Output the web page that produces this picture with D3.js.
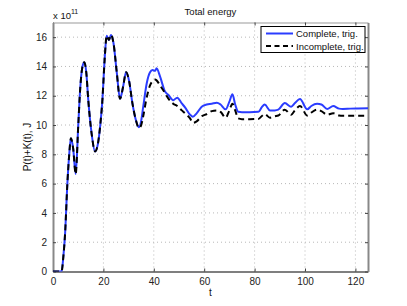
<!DOCTYPE html>
<html><head><meta charset="utf-8">
<script src="https://cdn.jsdelivr.net/npm/d3@7"></script>
<style>body{margin:0;background:#fff}svg{display:block}text{font-family:"Liberation Sans",Arial,sans-serif}</style>
</head><body>
<svg id="c" width="407" height="306"></svg>
<script>
const tValues = [0,3.4,4.1,4.8,5.7,6.4,7.1,8.0,9.0,10.0,10.8,11.6,12.4,13.2,14.0,15.3,16.7,17.8,18.7,19.6,20.5,21.3,22.2,23.0,24.0,25.3,26.6,27.8,29.0,30.2,31.5,32.8,34.1,35.0,35.8,37.2,38.5,39.5,40.5,41.1,42.5,44.4,45.8,47.7,49.3,51.1,52.4,54.4,55.5,57.0,59.0,61.0,63.0,65.0,66.5,68.5,70.0,71.2,72.3,73.5,75,78,81.5,82.8,84.0,86.1,88.0,89.4,92.0,94.5,96.0,98.0,100.9,102.5,104.8,106.5,108.8,111.2,113.5,115,118,121,125];
const completeTrig = [0,0,1.0,2.6,6.0,7.9,9.1,8.4,6.65,9.9,12.5,13.9,14.28,13.6,11.7,9.45,8.2,8.7,9.9,11.7,14.5,16.1,15.8,16.15,15.6,13.6,11.8,12.6,13.6,13.0,11.5,10.4,9.85,10.3,11.25,12.85,13.6,13.75,13.7,13.87,13.3,12.3,12.05,11.7,11.87,11.48,11.2,10.7,10.57,10.8,11.25,11.4,11.45,11.52,11.4,11.07,11.6,12.1,11.4,10.9,10.88,10.88,10.9,11.2,11.4,11.0,11.0,11.05,11.5,11.25,11.5,11.77,11.07,11.3,11.45,11.4,11.1,11.3,11.12,11.1,11.12,11.13,11.14];
const incompleteTrig = [0,0,1.0,2.6,6.0,7.9,9.1,8.4,6.65,9.9,12.5,13.9,14.28,13.6,11.7,9.45,8.2,8.7,9.9,11.7,14.5,16.1,15.8,16.15,15.6,13.6,11.8,12.6,13.6,13.0,11.5,10.4,9.8,10.0,10.6,11.9,12.7,13.0,13.1,13.05,12.7,12.2,11.8,11.45,11.3,11.0,10.8,10.45,10.15,10.25,10.6,10.75,10.95,11.0,10.9,10.5,11.0,11.45,11.0,10.45,10.4,10.4,10.42,10.6,10.75,10.5,10.6,10.65,11.05,10.7,11.0,11.3,10.65,10.85,11.05,10.95,10.7,10.8,10.65,10.63,10.63,10.63,10.63];
const xTicks = [0,20,40,60,80,100,120];
const yTicks = [0,2,4,6,8,10,12,14,16];
const seriesNames = ["Complete, trig.","Incomplete, trig."];

const svg = d3.select("#c");
const L=53,R=368,T=22.5,B=271.5;
const x = d3.scaleLinear().domain([0,125]).range([L,R]);
const y = d3.scaleLinear().domain([0,17]).range([B,T]);

// grid
const g = svg.append("g");
g.selectAll(".gx").data(xTicks.filter(d=>d>0)).enter().append("line")
 .attr("x1",d=>x(d)).attr("x2",d=>x(d)).attr("y1",T).attr("y2",B)
 .attr("stroke","#b8b8b8").attr("stroke-width",1).attr("stroke-dasharray","1,3");
g.selectAll(".gy").data(yTicks.filter(d=>d>0)).enter().append("line")
 .attr("y1",d=>y(d)).attr("y2",d=>y(d)).attr("x1",L).attr("x2",R)
 .attr("stroke","#b8b8b8").attr("stroke-width",1).attr("stroke-dasharray","1,3");

// axes
const xa = svg.append("g").attr("transform",`translate(0,${B})`)
 .call(d3.axisBottom(x).tickValues(xTicks).tickSizeInner(-3).tickSizeOuter(0).tickPadding(6));
const xt = svg.append("g").attr("transform",`translate(0,${T})`)
 .call(d3.axisTop(x).tickValues(xTicks).tickSizeInner(-3).tickSizeOuter(0).tickFormat(""));
const ya = svg.append("g").attr("transform",`translate(${L},0)`)
 .call(d3.axisLeft(y).tickValues(yTicks).tickSizeInner(-3).tickSizeOuter(0).tickPadding(6));
const yr = svg.append("g").attr("transform",`translate(${R},0)`)
 .call(d3.axisRight(y).tickValues(yTicks).tickSizeInner(-3).tickSizeOuter(0).tickFormat(""));
[xa,xt,ya,yr].forEach(a=>{
  a.selectAll("text").attr("font-size",10).attr("fill","#222").attr("font-family","Liberation Sans, Arial, sans-serif");
  a.selectAll(".tick line").attr("stroke","#444");
});
xa.select(".domain").attr("stroke","#000").attr("stroke-width",1.2);
xt.select(".domain").attr("stroke","#999").attr("stroke-width",1);
ya.select(".domain").attr("stroke","#888").attr("stroke-width",2);
yr.select(".domain").attr("stroke","#888").attr("stroke-width",2);

// lines
const pts1 = tValues.map((t,i)=>[t,completeTrig[i]]);
const pts2 = tValues.map((t,i)=>[t,incompleteTrig[i]]);
const line = d3.line().x(d=>x(d[0])).y(d=>y(d[1])).curve(d3.curveMonotoneX);
const clip = svg.append("clipPath").attr("id","cp").append("rect").attr("x",L).attr("y",T).attr("width",R-L).attr("height",B-T);
svg.append("path").attr("d",line(pts1)).attr("fill","none").attr("stroke","#2a3cff").attr("stroke-width",2).attr("clip-path","url(#cp)");
svg.append("path").attr("d",line(pts2)).attr("fill","none").attr("stroke","#000").attr("stroke-width",2).attr("stroke-dasharray","6,4").attr("clip-path","url(#cp)");

// title & labels
svg.append("text").attr("x",(L+R)/2).attr("y",15).attr("text-anchor","middle").attr("font-size",9.5).attr("fill","#111").text("Total energy");
const ex = svg.append("text").attr("x",L).attr("y",19).attr("font-size",9.5).attr("fill","#111");
ex.append("tspan").text("x 10");
ex.append("tspan").attr("dy",-5).attr("font-size",7).text("11");
svg.append("text").attr("x",(L+R)/2).attr("y",296).attr("text-anchor","middle").attr("font-size",10).attr("fill","#111").text("t");
svg.append("text").attr("transform",`translate(31,${(T+B)/2}) rotate(-90)`).attr("text-anchor","middle").attr("font-size",10).attr("fill","#111").text("P(t)+K(t), J");

// legend
const lg = svg.append("g");
lg.append("rect").attr("x",261).attr("y",26.5).attr("width",104).attr("height",26).attr("fill","#fff").attr("stroke","#000").attr("stroke-width",1);
lg.append("line").attr("x1",266).attr("x2",293).attr("y1",33.5).attr("y2",33.5).attr("stroke","#2a3cff").attr("stroke-width",2);
lg.append("line").attr("x1",266).attr("x2",293).attr("y1",46).attr("y2",46).attr("stroke","#000").attr("stroke-width",2).attr("stroke-dasharray","5,3.5");
lg.append("text").attr("x",296).attr("y",37).attr("font-size",9.5).attr("fill","#111").text(seriesNames[0]);
lg.append("text").attr("x",296).attr("y",49.5).attr("font-size",9.5).attr("fill","#111").text(seriesNames[1]);
</script>
</body></html>
